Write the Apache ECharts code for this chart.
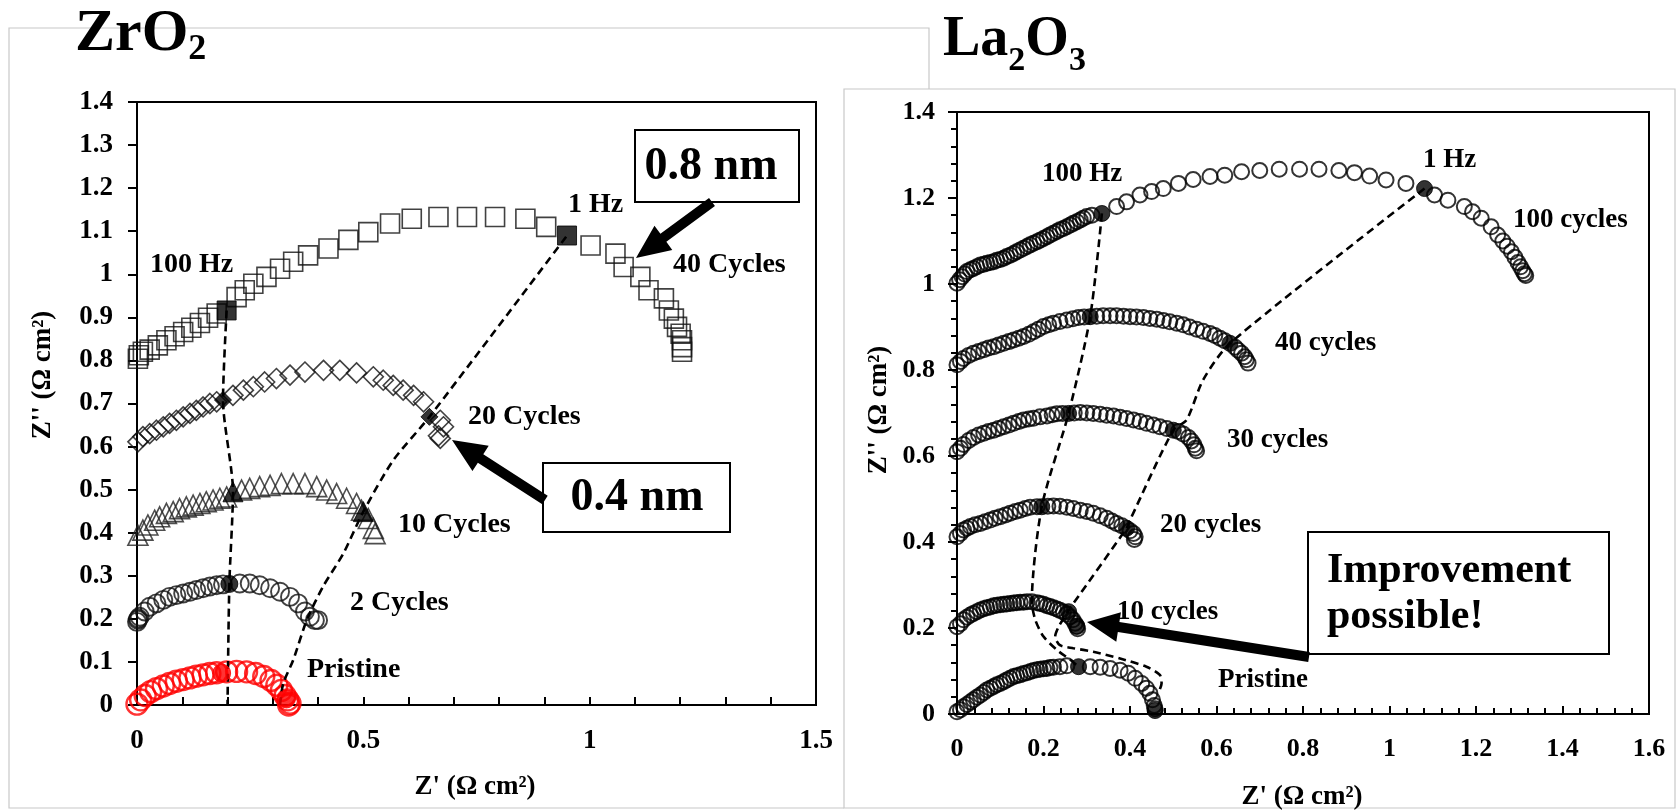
<!DOCTYPE html>
<html>
<head>
<meta charset="utf-8">
<script src="https://cdn.jsdelivr.net/npm/echarts/dist/echarts.min.js"></script>
<style>
html,body{margin:0;padding:0;background:#fff;}
#c{width:1677px;height:812px;}
</style>
</head>
<body>
<div id="c"></div>
<script>
// ---------------- DATA ----------------
// ZrO2 panel: Z' (x), Z'' (y) in ohm cm2
const zrPristine = [[0.000,0.002],[0.008,0.012],[0.018,0.022],[0.030,0.031],[0.043,0.038],[0.058,0.044],[0.072,0.050],[0.087,0.055],[0.102,0.059],[0.117,0.063],[0.131,0.067],[0.146,0.070],[0.161,0.073],[0.176,0.075],[0.198,0.077],[0.220,0.078],[0.242,0.077],[0.262,0.073],[0.280,0.066],[0.296,0.057],[0.309,0.046],[0.319,0.034],[0.327,0.022],[0.333,0.012],[0.338,0.004],[0.335,0.000]];
const zrPristineFilled = [[0.187,0.074],[0.330,0.014]];
const zr2 = [[0.000,0.193],[0.002,0.198],[0.003,0.201],[0.006,0.205],[0.017,0.217],[0.028,0.228],[0.043,0.236],[0.058,0.244],[0.072,0.251],[0.087,0.255],[0.102,0.259],[0.117,0.263],[0.131,0.267],[0.146,0.271],[0.161,0.275],[0.176,0.278],[0.190,0.280],[0.227,0.282],[0.249,0.282],[0.271,0.278],[0.294,0.271],[0.316,0.263],[0.338,0.251],[0.356,0.236],[0.371,0.217],[0.382,0.205],[0.393,0.197],[0.400,0.197]];
const zr2Filled = [[0.204,0.281]];
const zr10 = [[0.002,0.394],[0.013,0.406],[0.024,0.418],[0.039,0.429],[0.050,0.437],[0.065,0.445],[0.080,0.449],[0.094,0.456],[0.109,0.460],[0.124,0.464],[0.139,0.468],[0.153,0.472],[0.168,0.476],[0.183,0.480],[0.198,0.483],[0.231,0.499],[0.249,0.503],[0.271,0.507],[0.294,0.510],[0.319,0.514],[0.345,0.514],[0.371,0.514],[0.397,0.507],[0.419,0.499],[0.441,0.491],[0.463,0.480],[0.485,0.468],[0.496,0.452],[0.511,0.433],[0.522,0.410],[0.526,0.398]];
const zr10Filled = [[0.212,0.495],[0.500,0.449]];
const zr20 = [[0.002,0.611],[0.013,0.623],[0.028,0.630],[0.043,0.638],[0.058,0.646],[0.072,0.654],[0.087,0.661],[0.102,0.669],[0.117,0.677],[0.131,0.684],[0.146,0.692],[0.161,0.700],[0.176,0.704],[0.212,0.719],[0.235,0.731],[0.257,0.739],[0.282,0.750],[0.308,0.758],[0.338,0.766],[0.371,0.773],[0.412,0.777],[0.448,0.777],[0.485,0.771],[0.522,0.762],[0.544,0.754],[0.566,0.742],[0.588,0.731],[0.611,0.719],[0.633,0.704],[0.670,0.661],[0.677,0.646],[0.670,0.619],[0.666,0.625]];
const zr20Filled = [[0.190,0.708],[0.646,0.669]];
const zr40 = [[0.002,0.804],[0.004,0.812],[0.013,0.820],[0.028,0.825],[0.046,0.835],[0.065,0.847],[0.083,0.856],[0.102,0.866],[0.120,0.876],[0.139,0.887],[0.157,0.899],[0.176,0.909],[0.220,0.947],[0.238,0.963],[0.257,0.978],[0.286,0.994],[0.316,1.013],[0.345,1.029],[0.378,1.044],[0.423,1.060],[0.467,1.080],[0.511,1.098],[0.559,1.118],[0.607,1.129],[0.666,1.133],[0.729,1.133],[0.791,1.133],[0.858,1.129],[0.904,1.110],[1.002,1.067],[1.057,1.048],[1.075,1.017],[1.112,0.994],[1.130,0.963],[1.164,0.944],[1.175,0.916],[1.186,0.897],[1.193,0.878],[1.201,0.862],[1.204,0.847],[1.204,0.831],[1.204,0.820]];
const zr40Filled = [[0.198,0.916],[0.950,1.090]];
const zrLine100Hz = [[0.198,0.916],[0.190,0.708],[0.212,0.495],[0.204,0.281],[0.200,0.000]];
const zrLine1Hz = [[0.316,0.000],[0.323,0.050],[0.345,0.104],[0.375,0.197],[0.411,0.275],[0.456,0.352],[0.500,0.449],[0.566,0.568],[0.646,0.669],[0.950,1.090]];

// La2O3 panel
const laPristine = [[0.000,0.005],[0.008,0.010],[0.015,0.017],[0.023,0.022],[0.031,0.028],[0.038,0.033],[0.046,0.039],[0.054,0.044],[0.062,0.050],[0.069,0.056],[0.077,0.060],[0.085,0.064],[0.092,0.068],[0.100,0.071],[0.108,0.075],[0.115,0.079],[0.123,0.083],[0.131,0.087],[0.138,0.089],[0.146,0.091],[0.154,0.094],[0.162,0.096],[0.170,0.099],[0.177,0.101],[0.185,0.103],[0.192,0.104],[0.200,0.105],[0.208,0.106],[0.215,0.108],[0.223,0.109],[0.238,0.110],[0.254,0.112],[0.308,0.110],[0.331,0.109],[0.354,0.106],[0.377,0.102],[0.396,0.095],[0.412,0.083],[0.427,0.071],[0.438,0.060],[0.446,0.048],[0.452,0.033],[0.456,0.020],[0.458,0.012]];
const laPristineFilled = [[0.281,0.110],[0.458,0.008]];
const la10 = [[0.000,0.203],[0.008,0.210],[0.015,0.219],[0.023,0.225],[0.031,0.230],[0.038,0.234],[0.046,0.238],[0.054,0.242],[0.062,0.245],[0.069,0.247],[0.077,0.249],[0.085,0.252],[0.092,0.253],[0.100,0.254],[0.108,0.255],[0.115,0.256],[0.123,0.257],[0.131,0.258],[0.138,0.259],[0.146,0.260],[0.154,0.260],[0.162,0.261],[0.173,0.261],[0.185,0.259],[0.192,0.257],[0.200,0.255],[0.208,0.252],[0.215,0.250],[0.223,0.247],[0.231,0.244],[0.238,0.241],[0.246,0.237],[0.254,0.232],[0.262,0.226],[0.268,0.219],[0.273,0.211],[0.277,0.203],[0.279,0.198]];
const la10Filled = [[0.258,0.238],[0.277,0.205]];
const la20 = [[0.000,0.412],[0.008,0.420],[0.015,0.428],[0.023,0.432],[0.031,0.436],[0.042,0.440],[0.054,0.443],[0.065,0.447],[0.077,0.451],[0.088,0.455],[0.100,0.459],[0.112,0.463],[0.123,0.467],[0.135,0.471],[0.146,0.474],[0.158,0.478],[0.169,0.481],[0.185,0.482],[0.210,0.483],[0.223,0.484],[0.238,0.483],[0.254,0.481],[0.269,0.478],[0.285,0.474],[0.300,0.471],[0.315,0.467],[0.331,0.461],[0.346,0.455],[0.358,0.449],[0.369,0.443],[0.381,0.438],[0.400,0.426],[0.408,0.420],[0.412,0.412],[0.410,0.406]];
const la20Filled = [[0.196,0.482],[0.392,0.432]];
const la30 = [[0.000,0.610],[0.008,0.618],[0.015,0.627],[0.027,0.636],[0.038,0.643],[0.050,0.649],[0.062,0.653],[0.073,0.657],[0.085,0.660],[0.096,0.664],[0.108,0.668],[0.120,0.672],[0.131,0.676],[0.143,0.680],[0.154,0.684],[0.166,0.686],[0.177,0.688],[0.192,0.691],[0.208,0.693],[0.220,0.696],[0.231,0.698],[0.244,0.699],[0.271,0.700],[0.285,0.701],[0.300,0.700],[0.315,0.699],[0.331,0.697],[0.346,0.695],[0.362,0.693],[0.377,0.690],[0.392,0.687],[0.408,0.684],[0.423,0.680],[0.438,0.676],[0.454,0.672],[0.469,0.668],[0.485,0.664],[0.512,0.657],[0.523,0.651],[0.535,0.643],[0.542,0.635],[0.548,0.626],[0.551,0.618],[0.554,0.612]];
const la30Filled = [[0.258,0.699],[0.500,0.660]];
const la40 = [[0.000,0.812],[0.008,0.820],[0.015,0.827],[0.027,0.834],[0.038,0.839],[0.050,0.843],[0.062,0.847],[0.073,0.851],[0.085,0.854],[0.096,0.858],[0.108,0.862],[0.120,0.866],[0.131,0.870],[0.143,0.874],[0.154,0.878],[0.166,0.883],[0.177,0.889],[0.188,0.895],[0.200,0.901],[0.212,0.905],[0.223,0.909],[0.238,0.913],[0.254,0.916],[0.268,0.919],[0.281,0.922],[0.294,0.923],[0.323,0.925],[0.338,0.926],[0.354,0.926],[0.369,0.926],[0.385,0.925],[0.400,0.924],[0.415,0.923],[0.431,0.922],[0.446,0.920],[0.462,0.918],[0.477,0.915],[0.492,0.912],[0.508,0.909],[0.523,0.905],[0.538,0.900],[0.554,0.895],[0.569,0.890],[0.585,0.885],[0.596,0.880],[0.608,0.874],[0.619,0.868],[0.643,0.853],[0.650,0.846],[0.658,0.839],[0.665,0.831],[0.669,0.824],[0.673,0.816]];
const la40Filled = [[0.308,0.924],[0.631,0.862]];
const la100 = [[0.000,1.002],[0.006,1.010],[0.012,1.017],[0.018,1.023],[0.023,1.029],[0.031,1.033],[0.038,1.036],[0.046,1.040],[0.054,1.044],[0.062,1.046],[0.069,1.048],[0.077,1.050],[0.085,1.052],[0.092,1.055],[0.100,1.057],[0.108,1.060],[0.115,1.064],[0.123,1.067],[0.131,1.071],[0.138,1.075],[0.146,1.079],[0.154,1.083],[0.162,1.087],[0.169,1.091],[0.177,1.095],[0.185,1.098],[0.192,1.102],[0.200,1.106],[0.208,1.110],[0.215,1.114],[0.223,1.118],[0.231,1.122],[0.238,1.126],[0.246,1.129],[0.254,1.133],[0.262,1.137],[0.269,1.141],[0.277,1.145],[0.285,1.149],[0.292,1.153],[0.300,1.157],[0.312,1.160],[0.369,1.180],[0.392,1.191],[0.423,1.207],[0.450,1.215],[0.477,1.222],[0.512,1.234],[0.546,1.243],[0.585,1.250],[0.619,1.253],[0.658,1.261],[0.700,1.264],[0.745,1.267],[0.792,1.267],[0.837,1.267],[0.883,1.264],[0.919,1.259],[0.954,1.251],[0.992,1.242],[1.038,1.234],[1.104,1.207],[1.135,1.195],[1.173,1.180],[1.192,1.168],[1.212,1.153],[1.235,1.133],[1.250,1.114],[1.262,1.100],[1.272,1.088],[1.282,1.075],[1.290,1.062],[1.297,1.050],[1.303,1.040],[1.308,1.031],[1.312,1.024],[1.315,1.020]];
const la100Filled = [[0.335,1.164],[1.081,1.222]];
const laLine100Hz = [[0.335,1.164],[0.308,0.924],[0.258,0.699],[0.196,0.482],[0.173,0.261],[0.181,0.219],[0.200,0.180],[0.231,0.149],[0.262,0.126],[0.281,0.110]];
const laLine1Hz = [[1.081,1.222],[0.631,0.862],[0.569,0.777],[0.531,0.684],[0.500,0.660],[0.400,0.451],[0.392,0.432],[0.269,0.257],[0.258,0.240],[0.235,0.203],[0.227,0.180],[0.238,0.160],[0.269,0.153],[0.315,0.145],[0.377,0.129],[0.438,0.110],[0.469,0.091],[0.473,0.071],[0.468,0.055]];

// ---------------- STYLE / LAYOUT ----------------
const FONT = '"Liberation Serif", "Times New Roman", serif';
const chart = echarts.init(document.getElementById('c'), null, {renderer: 'canvas'});

function openSeries(data, symbol, size, color, bw, xi) {
  return {type: 'scatter', data: data, xAxisIndex: xi, yAxisIndex: xi, symbol: symbol, symbolSize: size,
    itemStyle: {color: 'rgba(0,0,0,0)', borderColor: color, borderWidth: bw}, z: 2, silent: true};
}
function filledSeries(data, symbol, size, color, xi) {
  return {type: 'scatter', data: data, xAxisIndex: xi, yAxisIndex: xi, symbol: symbol, symbolSize: size,
    itemStyle: {color: color, borderColor: color, borderWidth: 1}, z: 5, silent: true};
}
function dashSeries(data, xi) {
  return {type: 'line', data: data, xAxisIndex: xi, yAxisIndex: xi, symbol: 'none', smooth: 0.25,
    lineStyle: {color: '#000', width: 2.6, type: [8, 5]}, z: 4, silent: true};
}

function xAxisCfg(gi, max, interval, fmt, fs, minor, margin) {
  return {type: 'value', gridIndex: gi, min: 0, max: max, interval: interval,
    axisLine: {show: true, onZero: false, lineStyle: {color: '#000', width: 2}},
    axisTick: {show: true, inside: true, length: 8, lineStyle: {color: '#000', width: 2}},
    minorTick: {show: minor, splitNumber: 5, length: 6, lineStyle: {color: '#000', width: 2}},
    axisLabel: {formatter: fmt, fontFamily: FONT, fontWeight: 'bold', fontSize: fs, color: '#000', margin: margin},
    splitLine: {show: false}};
}
function yAxisCfg(gi, interval, fs, minor, margin) {
  return {type: 'value', gridIndex: gi, min: 0, max: 1.4, interval: interval,
    axisLine: {show: true, onZero: false, lineStyle: {color: '#000', width: 2}},
    axisTick: {show: true, inside: false, length: 9, lineStyle: {color: '#000', width: 2}},
    minorTick: {show: minor, splitNumber: 5, length: 6, lineStyle: {color: '#000', width: 2}},
    axisLabel: {fontFamily: FONT, fontWeight: 'bold', fontSize: fs, color: '#000', margin: margin},
    splitLine: {show: false}};
}

function arrowPts(tx, ty, hx, hy, sw, hl, hw) {
  const dx = hx - tx, dy = hy - ty, L = Math.hypot(dx, dy), ux = dx / L, uy = dy / L, nx = -uy, ny = ux;
  const bx = hx - ux * hl, by = hy - uy * hl;
  return [[tx + nx * sw / 2, ty + ny * sw / 2], [bx + nx * sw / 2, by + ny * sw / 2], [bx + nx * hw / 2, by + ny * hw / 2],
    [hx, hy], [bx - nx * hw / 2, by - ny * hw / 2], [bx - nx * sw / 2, by - ny * sw / 2], [tx - nx * sw / 2, ty - ny * sw / 2]];
}

const ctx = document.createElement('canvas').getContext('2d');
function tw(txt, size) { ctx.font = 'bold ' + size + 'px ' + FONT; return ctx.measureText(txt).width; }
function formula(parts, x0, yMain, ySub, bigSize, subSize) {
  const out = []; let x = x0;
  parts.forEach(p => {
    const sub = p[1];
    const size = sub ? subSize : bigSize;
    out.push({type: 'text', z: 100, style: {text: p[0], x: x, y: sub ? ySub : yMain, font: 'bold ' + size + 'px ' + FONT,
      fill: '#000', textAlign: 'left', textVerticalAlign: 'middle'}});
    x += tw(p[0], size);
  });
  return out;
}
function label(txt, x, y, size, align) {
  return {type: 'text', z: 100, style: {text: txt, x: x, y: y, font: 'bold ' + size + 'px ' + FONT, fill: '#000',
    textAlign: align || 'left', textVerticalAlign: 'middle'}};
}

const graphics = [];
// panel frames
graphics.push({type: 'polyline', z: 0, shape: {points: [[844, 808], [9, 808], [9, 28], [929, 28], [929, 89]]},
  style: {stroke: '#c8c8c8', lineWidth: 1.2, fill: null}});
graphics.push({type: 'rect', z: 0, shape: {x: 844, y: 89, width: 831, height: 719}, style: {stroke: '#c8c8c8', lineWidth: 1.2, fill: null}});
// titles
formula([['ZrO', false], ['2', true]], 75, 34, 50, 60, 36).forEach(g => graphics.push(g));
formula([['La', false], ['2', true], ['O', false], ['3', true]], 943, 41, 61, 56, 34).forEach(g => graphics.push(g));
// axis names
graphics.push(label("Z' (\u03A9 cm\u00B2)", 475, 787, 27, 'center'));
graphics.push(label("Z' (\u03A9 cm\u00B2)", 1302, 797, 27, 'center'));
graphics.push({type: 'text', z: 100, x: 43, y: 375, rotation: Math.PI / 2,
  style: {text: "Z'' (\u03A9 cm\u00B2)", x: 0, y: 0, font: 'bold 27px ' + FONT, fill: '#000', textAlign: 'center', textVerticalAlign: 'middle'}});
graphics.push({type: 'text', z: 100, x: 879, y: 410, rotation: Math.PI / 2,
  style: {text: "Z'' (\u03A9 cm\u00B2)", x: 0, y: 0, font: 'bold 27px ' + FONT, fill: '#000', textAlign: 'center', textVerticalAlign: 'middle'}});
// in-plot labels, ZrO2
[["100 Hz", 150, 265], ["1 Hz", 568, 205], ["40 Cycles", 673, 265], ["20 Cycles", 468, 417],
 ["10 Cycles", 398, 525], ["2 Cycles", 350, 603], ["Pristine", 307, 670]].forEach(l => graphics.push(label(l[0], l[1], l[2], 28)));
// in-plot labels, La2O3
[["100 Hz", 1042, 174], ["1 Hz", 1423, 160], ["100 cycles", 1513, 220], ["40 cycles", 1275, 343],
 ["30 cycles", 1227, 440], ["20 cycles", 1160, 525], ["10 cycles", 1117, 612], ["Pristine", 1218, 680]].forEach(l => graphics.push(label(l[0], l[1], l[2], 27)));
// annotation boxes
graphics.push({type: 'rect', z: 90, shape: {x: 635, y: 130, width: 164, height: 72}, style: {fill: '#fff', stroke: '#000', lineWidth: 2}});
graphics.push(label("0.8 nm", 711, 167, 46, 'center'));
graphics.push({type: 'rect', z: 90, shape: {x: 543, y: 463, width: 187, height: 69}, style: {fill: '#fff', stroke: '#000', lineWidth: 2}});
graphics.push(label("0.4 nm", 637, 498, 46, 'center'));
graphics.push({type: 'rect', z: 90, shape: {x: 1308, y: 532, width: 301, height: 122}, style: {fill: '#fff', stroke: '#000', lineWidth: 2}});
graphics.push(label("Improvement", 1327, 571, 42, 'left'));
graphics.push(label("possible!", 1327, 617, 42, 'left'));
// arrows
graphics.push({type: 'polygon', z: 95, shape: {points: arrowPts(712, 202, 636, 258, 10, 34, 30)}, style: {fill: '#000'}});
graphics.push({type: 'polygon', z: 95, shape: {points: arrowPts(545, 500, 452, 440, 10, 34, 30)}, style: {fill: '#000'}});
graphics.push({type: 'polygon', z: 95, shape: {points: arrowPts(1309, 657, 1087, 622, 10, 32, 30)}, style: {fill: '#000'}});

const lfmt = v => { const r = Math.round(v * 10); return r % 5 === 0 ? String(r / 10) : ''; };

const option = {
  backgroundColor: '#fff',
  animation: false,
  grid: [
    {left: 137, top: 102, width: 679, height: 603, show: true, borderColor: '#000', borderWidth: 2, backgroundColor: 'transparent'},
    {left: 957, top: 112, width: 692, height: 602, show: true, borderColor: '#000', borderWidth: 2, backgroundColor: 'transparent'}
  ],
  xAxis: [
    xAxisCfg(0, 1.5, 0.1, lfmt, 27, false, 23),
    xAxisCfg(1, 1.6, 0.2, null, 26, true, 22)
  ],
  yAxis: [
    yAxisCfg(0, 0.1, 27, false, 24),
    yAxisCfg(1, 0.2, 26, true, 22)
  ],
  series: [
    openSeries(zrPristine, 'circle', 21, '#ff0000', 2.4, 0),
    openSeries(zr2, 'circle', 18, '#111', 1.9, 0),
    openSeries(zr10, 'triangle', 20, '#222', 1.6, 0),
    openSeries(zr20, 'diamond', 20, '#111', 1.6, 0),
    openSeries(zr40, 'rect', 19, '#111', 1.6, 0),
    dashSeries(zrLine100Hz, 0),
    dashSeries(zrLine1Hz, 0),
    filledSeries(zrPristineFilled, 'circle', 18, '#ff0000', 0),
    filledSeries(zr2Filled, 'circle', 17, '#000', 0),
    filledSeries(zr10Filled, 'triangle', 20, '#000', 0),
    filledSeries(zr20Filled, 'diamond', 17, '#000', 0),
    filledSeries(zr40Filled, 'rect', 19, '#000', 0),

    openSeries(laPristine, 'circle', 15, '#000', 2, 1),
    openSeries(la10, 'circle', 15, '#000', 2, 1),
    openSeries(la20, 'circle', 15, '#000', 2, 1),
    openSeries(la30, 'circle', 15, '#000', 2, 1),
    openSeries(la40, 'circle', 15, '#000', 2, 1),
    openSeries(la100, 'circle', 15, '#000', 2, 1),
    dashSeries(laLine100Hz, 1),
    dashSeries(laLine1Hz, 1),
    filledSeries(laPristineFilled, 'circle', 16, '#000', 1),
    filledSeries(la10Filled, 'circle', 16, '#000', 1),
    filledSeries(la20Filled, 'circle', 16, '#000', 1),
    filledSeries(la30Filled, 'circle', 16, '#000', 1),
    filledSeries(la40Filled, 'circle', 16, '#000', 1),
    filledSeries(la100Filled, 'circle', 16, '#000', 1)
  ],
  graphic: graphics
};
chart.setOption(option);
</script>
</body>
</html>
